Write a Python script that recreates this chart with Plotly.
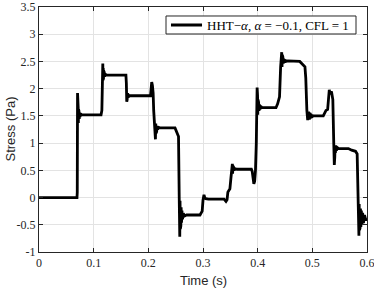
import plotly.graph_objects as go

# ---- data (time in s, stress in Pa) ----
time_s = [
    0.0, 0.0695, 0.0700, 0.0705,
    0.0708, 0.0711, 0.0714, 0.0717, 0.0720, 0.0723, 0.0727, 0.0731, 0.0736, 0.0742, 0.0750, 0.0760, 0.0780,
    0.1135, 0.1150, 0.1162, 0.1167,
    0.1171, 0.1175, 0.1179, 0.1183, 0.1188, 0.1194, 0.1200, 0.1210, 0.1230,
    0.1590, 0.1598, 0.1605,
    0.1609, 0.1613, 0.1617, 0.1622, 0.1630, 0.1640, 0.1660,
    0.2040, 0.2052, 0.2062, 0.2075, 0.2088, 0.2098, 0.2110, 0.2130,
    0.2136, 0.2141, 0.2146, 0.2152, 0.2160, 0.2170, 0.2185, 0.2210,
    0.2488, 0.2510, 0.2535, 0.2552, 0.2565, 0.2575,
    0.2580, 0.2585, 0.2590, 0.2595, 0.2600, 0.2607, 0.2615, 0.2625, 0.2640, 0.2660, 0.2700,
    0.2945, 0.2965, 0.2985, 0.3000, 0.3018, 0.3032, 0.3050, 0.3100,
    0.3385, 0.3420, 0.3440, 0.3455, 0.3475, 0.3492, 0.3510, 0.3525, 0.3537,
    0.3542, 0.3547, 0.3552, 0.3559, 0.3570, 0.3590, 0.3620,
    0.3885, 0.3900, 0.3915, 0.3930, 0.3945, 0.3960, 0.3975, 0.3990,
    0.3994, 0.3998, 0.4002, 0.4006, 0.4011, 0.4017, 0.4024, 0.4032, 0.4042, 0.4055, 0.4080,
    0.4335, 0.4365, 0.4380, 0.4400, 0.4420, 0.4440,
    0.4445, 0.4450, 0.4455, 0.4461, 0.4468, 0.4476, 0.4486, 0.4500, 0.4520, 0.4550,
    0.4770, 0.4820, 0.4865, 0.4880, 0.4890, 0.4900, 0.4915,
    0.4930, 0.4945, 0.4955, 0.4962, 0.4970, 0.4980, 0.4992, 0.5005, 0.5020, 0.5050,
    0.5200, 0.5250, 0.5280, 0.5310, 0.5325, 0.5350, 0.5375, 0.5392, 0.5402,
    0.5406, 0.5411, 0.5416, 0.5422, 0.5430, 0.5440, 0.5455, 0.5480, 0.5520,
    0.5660, 0.5720, 0.5790, 0.5820, 0.5838, 0.5852,
    0.5857, 0.5862, 0.5867, 0.5873, 0.5880, 0.5888, 0.5897, 0.5908, 0.5920, 0.5935, 0.5955, 0.5980, 0.6000,
]
stress_pa = [
    0.00, 0.00, 0.10, 1.92,
    1.28, 1.70, 1.33, 1.65, 1.37, 1.62, 1.40, 1.59, 1.44, 1.56, 1.48, 1.54, 1.52,
    1.52, 1.60, 2.20, 2.46,
    2.15, 2.38, 2.17, 2.33, 2.20, 2.30, 2.22, 2.27, 2.25,
    2.25, 2.10, 1.76,
    1.96, 1.80, 1.92, 1.83, 1.90, 1.85, 1.87,
    1.87, 2.04, 2.12, 2.06, 1.92, 1.60, 1.30, 1.07,
    1.36, 1.18, 1.34, 1.21, 1.31, 1.25, 1.29, 1.28,
    1.28, 1.21, 1.16, 1.12, 0.00, -0.72,
    -0.06, -0.58, -0.12, -0.52, -0.18, -0.46, -0.24, -0.40, -0.29, -0.34, -0.32,
    -0.32, -0.28, -0.25, -0.05, 0.05, 0.00, -0.02, -0.03,
    -0.03, -0.07, -0.04, 0.10, 0.14, 0.16, 0.35, 0.58, 0.62,
    0.44, 0.58, 0.47, 0.56, 0.50, 0.53, 0.52,
    0.52, 0.48, 0.30, 0.25, 0.30, 0.50, 1.00, 2.02,
    1.50, 1.88, 1.52, 1.80, 1.56, 1.75, 1.59, 1.71, 1.62, 1.68, 1.65,
    1.65, 1.72, 1.80, 1.85, 2.40, 2.67,
    2.40, 2.62, 2.43, 2.58, 2.46, 2.55, 2.48, 2.53, 2.50, 2.51,
    2.50, 2.45, 2.40, 2.20, 1.83, 1.60, 1.42,
    1.58, 1.43, 1.56, 1.45, 1.54, 1.47, 1.52, 1.49, 1.50, 1.50,
    1.50, 1.60, 1.62, 1.98, 1.90, 1.95, 1.80, 1.00, 0.60,
    0.98, 0.75, 0.96, 0.82, 0.94, 0.86, 0.92, 0.90, 0.90,
    0.90, 0.87, 0.85, 0.80, 0.00, -0.70,
    -0.12, -0.60, -0.16, -0.56, -0.20, -0.54, -0.24, -0.50, -0.28, -0.47, -0.32, -0.42, -0.38,
]

x_ticks = [0, 0.1, 0.2, 0.3, 0.4, 0.5, 0.6]
x_tick_labels = ["0", "0.1", "0.2", "0.3", "0.4", "0.5", "0.6"]
y_ticks = [-1, -0.5, 0, 0.5, 1, 1.5, 2, 2.5, 3, 3.5]
y_tick_labels = ["-1", "-0.5", "0", "0.5", "1", "1.5", "2", "2.5", "3", "3.5"]
x_title = "Time (s)"
y_title = "Stress (Pa)"
series_name = "HHT−<i>α</i>, <i>α</i> = −0.1, CFL = 1"

LINE_W = 2.8

fig = go.Figure()
fig.add_trace(go.Scatter(
    x=time_s, y=stress_pa, mode="lines", name=series_name, showlegend=False,
    line=dict(color="black", width=LINE_W),
))

axis_common = dict(
    showline=True, linecolor="#262626", linewidth=1, mirror="ticks",
    ticks="inside", ticklen=4, tickcolor="#262626",
    showgrid=True, gridcolor="#e3e3e3", gridwidth=1, zeroline=False,
    automargin=False, ticklabeloverflow="allow",
    tickfont=dict(family="Liberation Serif", size=12, color="#262626"),
)

# legend box drawn in paper coordinates (MATLAB-style compact legend)
leg_box = dict(type="rect", xref="paper", yref="paper",
               x0=0.3872, x1=0.9665, y0=0.8898, y1=0.9633,
               line=dict(color="#262626", width=1), fillcolor="white", layer="above")
leg_line = dict(type="line", xref="paper", yref="paper",
                x0=0.4024, x1=0.4970, y0=0.9265, y1=0.9265,
                line=dict(color="black", width=LINE_W), layer="above")

fig.update_layout(
    width=374, height=288,
    margin=dict(l=39, r=7, t=7, b=36),
    paper_bgcolor="white", plot_bgcolor="white",
    showlegend=False,
    xaxis=dict(range=[0, 0.6], tickvals=x_ticks, ticktext=x_tick_labels, **axis_common),
    yaxis=dict(range=[-1, 3.5], tickvals=y_ticks, ticktext=y_tick_labels, **axis_common),
    shapes=[leg_box, leg_line],
    annotations=[
        dict(text=x_title, xref="paper", yref="paper", x=0.5, y=0, yshift=-28,
             xanchor="center", yanchor="middle", showarrow=False,
             font=dict(family="Liberation Sans", size=13, color="#262626")),
        dict(text=y_title, xref="paper", yref="paper", x=0, y=0.5, xshift=-29,
             xanchor="center", yanchor="middle", showarrow=False, textangle=-90,
             font=dict(family="Liberation Sans", size=13, color="#262626")),
        dict(text=series_name, xref="paper", yref="paper", x=0.5061, y=0.9265,
             xanchor="left", yanchor="middle", showarrow=False,
             font=dict(family="Liberation Serif", size=13, color="black")),
    ],
)

fig.write_html("out.html", post_script="document.body.style.margin='0';",
               config={"displayModeBar": False})
